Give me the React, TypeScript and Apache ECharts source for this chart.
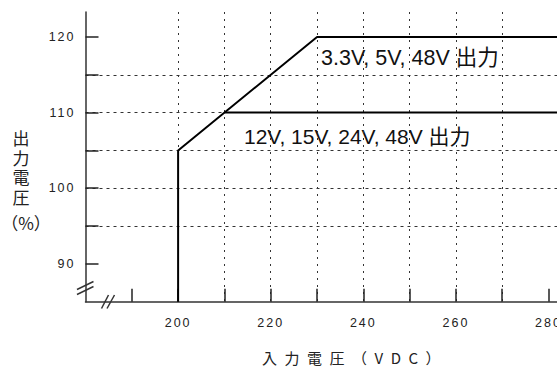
import React, { useEffect, useRef } from "react";
import * as echarts from "echarts";

// Input voltage (VDC) vs output voltage (%)
const highOutX = [200, 200, 230, 282];
const highOutY = [85, 105, 120, 120];
const lowOutX = [210, 282];
const lowOutY = [110, 110];

const xTickValues = [190, 200, 210, 220, 230, 240, 250, 260, 270, 280];
const xLabelValues = [200, 220, 240, 260, 280];
const yTickValues = [90, 95, 100, 105, 110, 115, 120];
const yLabelValues = [90, 100, 110, 120];

const highOutLabel = "3.3V, 5V, 48V 出力";
const lowOutLabel = "12V, 15V, 24V, 48V 出力";
const xAxisTitle = "入力電圧（VDC）";
const yAxisTitleWords = "出\n力\n電\n圧";
const yAxisTitleUnit = "（%）";

const LATIN = "'Liberation Sans', Arial, 'Noto Sans CJK JP', sans-serif";
const MIXED = "'Liberation Sans', 'Noto Sans CJK JP', sans-serif";
const CJK = "'Noto Sans CJK JP', 'Liberation Sans', sans-serif";

export default function App() {
  const ref = useRef<HTMLDivElement>(null);

  useEffect(() => {
    if (!ref.current) return;
    const chart = echarts.init(ref.current, null, { renderer: "svg" });
    const axisColor = "#333";
    chart.setOption({
      animation: false,
      backgroundColor: "#fff",
      grid: {
        left: 85.5,
        top: 12,
        width: 472.3,
        height: 289.7,
        containLabel: false,
        outerBoundsMode: "none",
      },
      xAxis: {
        type: "value",
        min: 180,
        max: 282,
        interval: 10,
        axisLine: { show: true, onZero: false, lineStyle: { color: axisColor, width: 1.5 } },
        axisTick: {
          show: true,
          inside: true,
          length: 13,
          customValues: xTickValues,
          lineStyle: { color: "#222", width: 1.5 },
        },
        axisLabel: {
          customValues: xLabelValues,
          margin: 15,
          color: "#222",
          fontSize: 12.5,
          fontFamily: LATIN,
        },
        splitLine: {
          show: true,
          showMinLine: false,
          showMaxLine: false,
          lineStyle: { color: "#333", width: 1, type: [2, 5] },
        },
      },
      yAxis: {
        type: "value",
        min: 85,
        max: 123.3,
        interval: 5,
        axisLine: { show: true, onZero: false, lineStyle: { color: axisColor, width: 1.5 } },
        axisTick: {
          show: true,
          inside: true,
          length: 13,
          customValues: yTickValues,
          lineStyle: { color: "#222", width: 1.5 },
        },
        axisLabel: {
          customValues: yLabelValues,
          margin: 10,
          color: "#222",
          fontSize: 12.5,
          fontFamily: LATIN,
        },
        splitLine: {
          show: true,
          showMinLine: false,
          showMaxLine: false,
          lineStyle: { color: "#333", width: 1, type: [3, 4] },
        },
      },
      series: [
        {
          type: "line",
          data: highOutX.map((x, i) => [x, highOutY[i]]),
          symbol: "none",
          lineStyle: { color: "#000", width: 2 },
          clip: true,
        },
        {
          type: "line",
          data: lowOutX.map((x, i) => [x, lowOutY[i]]),
          symbol: "none",
          lineStyle: { color: "#000", width: 2 },
          clip: true,
        },
      ],
      graphic: [
        {
          type: "text",
          x: 321,
          y: 58,
          style: {
            text: highOutLabel,
            fontSize: 21.5,
            fontFamily: MIXED,
            fill: "#111",
            textAlign: "left",
            textVerticalAlign: "middle",
          },
        },
        {
          type: "text",
          x: 244,
          y: 136,
          style: {
            text: lowOutLabel,
            fontSize: 21,
            fontFamily: MIXED,
            fill: "#111",
            textAlign: "left",
            textVerticalAlign: "middle",
          },
        },
        {
          type: "text",
          x: 262,
          y: 357,
          style: {
            text: xAxisTitle,
            fontSize: 15,
            fontFamily: CJK,
            fill: "#222",
            textAlign: "left",
            textVerticalAlign: "middle",
          },
        },
        {
          type: "text",
          x: 21,
          y: 128,
          style: {
            text: yAxisTitleWords,
            fontSize: 17,
            lineHeight: 19.5,
            fontFamily: CJK,
            fill: "#222",
            textAlign: "center",
            textVerticalAlign: "top",
          },
        },
        {
          type: "text",
          x: 26,
          y: 222,
          style: {
            text: yAxisTitleUnit,
            fontSize: 17,
            fontFamily: CJK,
            fill: "#222",
            textAlign: "center",
            textVerticalAlign: "middle",
          },
        },
        // axis break marks
        { type: "line", shape: { x1: 77, y1: 289.5, x2: 93.5, y2: 281.5 }, style: { stroke: "#333", lineWidth: 1.5 } },
        { type: "line", shape: { x1: 77, y1: 294.5, x2: 93.5, y2: 286.5 }, style: { stroke: "#333", lineWidth: 1.5 } },
        { type: "line", shape: { x1: 101.5, y1: 308.5, x2: 108.5, y2: 295 }, style: { stroke: "#333", lineWidth: 1.5 } },
        { type: "line", shape: { x1: 107, y1: 308.5, x2: 114.5, y2: 295 }, style: { stroke: "#333", lineWidth: 1.5 } },
      ],
    });
    return () => chart.dispose();
  }, []);

  return (
    <>
      <style>{`
        .chart-root text[style*="12.5px"] { letter-spacing: 2px; }
        .chart-root text[style*="15px"] { letter-spacing: 7.5px; }
      `}</style>
      <div
        className="chart-root"
        ref={ref}
        style={{ position: "fixed", left: 0, top: 0, width: 557, height: 372, background: "#fff" }}
      />
    </>
  );
}
